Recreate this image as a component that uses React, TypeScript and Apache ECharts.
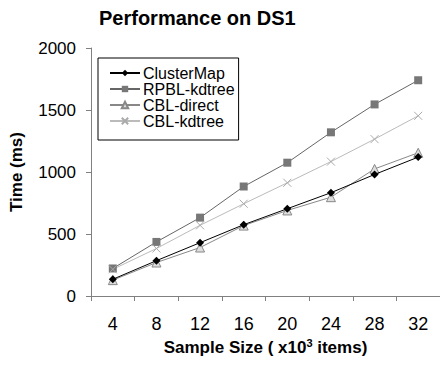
import React, { useEffect, useRef } from "react";
import * as echarts from "echarts";

const categories = ["4", "8", "12", "16", "20", "24", "28", "32"];
const clusterMap = [135, 285, 430, 575, 704, 833, 980, 1120];
const rpblKdtree = [222, 436, 632, 883, 1075, 1320, 1545, 1740];
const cblDirect = [128, 270, 391, 568, 690, 797, 1025, 1155];
const cblKdtree = [215, 383, 570, 744, 913, 1084, 1265, 1453];
const yTicks = [0, 500, 1000, 1500, 2000];

const FONT = "Liberation Sans, Arial, sans-serif";

export default function App() {
  const ref = useRef<HTMLDivElement>(null);
  useEffect(() => {
    if (!ref.current) return;
    const chart = echarts.init(ref.current, null, { renderer: "svg" });
    const xSym = "path://M0,0L10,10M10,0L0,10";
    chart.setOption({
      animation: false,
      backgroundColor: "#fff",
      textStyle: { fontFamily: FONT },
      title: {
        text: "Performance on DS1",
        left: 94,
        top: 3,
        textStyle: { fontFamily: FONT, fontSize: 20, fontWeight: "bold", color: "#000" },
      },
      legend: {
        left: 98,
        top: 58,
        orient: "vertical",
        itemGap: 0,
        itemWidth: 30,
        itemHeight: 8,
        padding: [7, 4, 11, 11],
        borderColor: "#000",
        borderWidth: 1,
        backgroundColor: "#fff",
        textStyle: { fontFamily: FONT, fontSize: 16, color: "#000", lineHeight: 15, padding: [0, 0, 0, -2] },
        data: ["ClusterMap", "RPBL-kdtree", "CBL-direct", "CBL-kdtree"],
      },
      grid: { left: 89, top: 48, width: 352, bottom: 69, containLabel: false },
      xAxis: {
        type: "category",
        data: categories,
        boundaryGap: true,
        axisLine: { lineStyle: { color: "#808080", width: 1 } },
        axisTick: { show: true, length: 5, lineStyle: { color: "#808080" } },
        axisLabel: { fontFamily: FONT, fontSize: 18, color: "#000", margin: 19 },
        name: "Sample Size ( x10{sup|3} items)",
        nameLocation: "middle",
        nameGap: 41,
        nameTextStyle: {
          fontFamily: FONT,
          fontSize: 17,
          fontWeight: "bold",
          color: "#000",
          rich: { sup: { fontSize: 11, fontWeight: "bold", verticalAlign: "top", padding: [0, 0, 8, 0], fontFamily: FONT } },
        },
      },
      yAxis: {
        type: "value",
        min: yTicks[0],
        max: yTicks[yTicks.length - 1],
        interval: 500,
        splitLine: { show: false },
        axisLine: { show: true, lineStyle: { color: "#808080", width: 1 } },
        axisTick: { show: true, length: 5, lineStyle: { color: "#808080" } },
        axisLabel: { fontFamily: FONT, fontSize: 17, color: "#000", margin: 15, formatter: (v: number) => String(v) },
        name: "Time (ms)",
        nameLocation: "middle",
        nameGap: 66,
        nameTextStyle: { fontFamily: FONT, fontSize: 17, fontWeight: "bold", color: "#000" },
      },
      series: [
        {
          name: "ClusterMap",
          type: "line",
          data: clusterMap,
          symbol: "diamond",
          symbolSize: 8,
          lineStyle: { color: "#000", width: 1 },
          itemStyle: { color: "#000" },
          z: 4,
        },
        {
          name: "RPBL-kdtree",
          type: "line",
          data: rpblKdtree,
          symbol: "rect",
          symbolSize: 8,
          lineStyle: { color: "#666", width: 1 },
          itemStyle: { color: "#777" },
        },
        {
          name: "CBL-direct",
          type: "line",
          data: cblDirect,
          symbol: "triangle",
          symbolSize: 9,
          lineStyle: { color: "#888", width: 1 },
          itemStyle: { color: "#ddd", borderColor: "#888", borderWidth: 1 },
          z: 3,
        },
        {
          name: "CBL-kdtree",
          type: "line",
          data: cblKdtree,
          symbol: xSym,
          symbolSize: 8,
          lineStyle: { color: "#bbb", width: 1 },
          itemStyle: { color: "none", borderColor: "#aaa", borderWidth: 1 },
        },
      ],
    });
    return () => chart.dispose();
  }, []);
  return <div ref={ref} style={{ width: 440, height: 365, position: "absolute", left: 0, top: 0 }} />;
}
